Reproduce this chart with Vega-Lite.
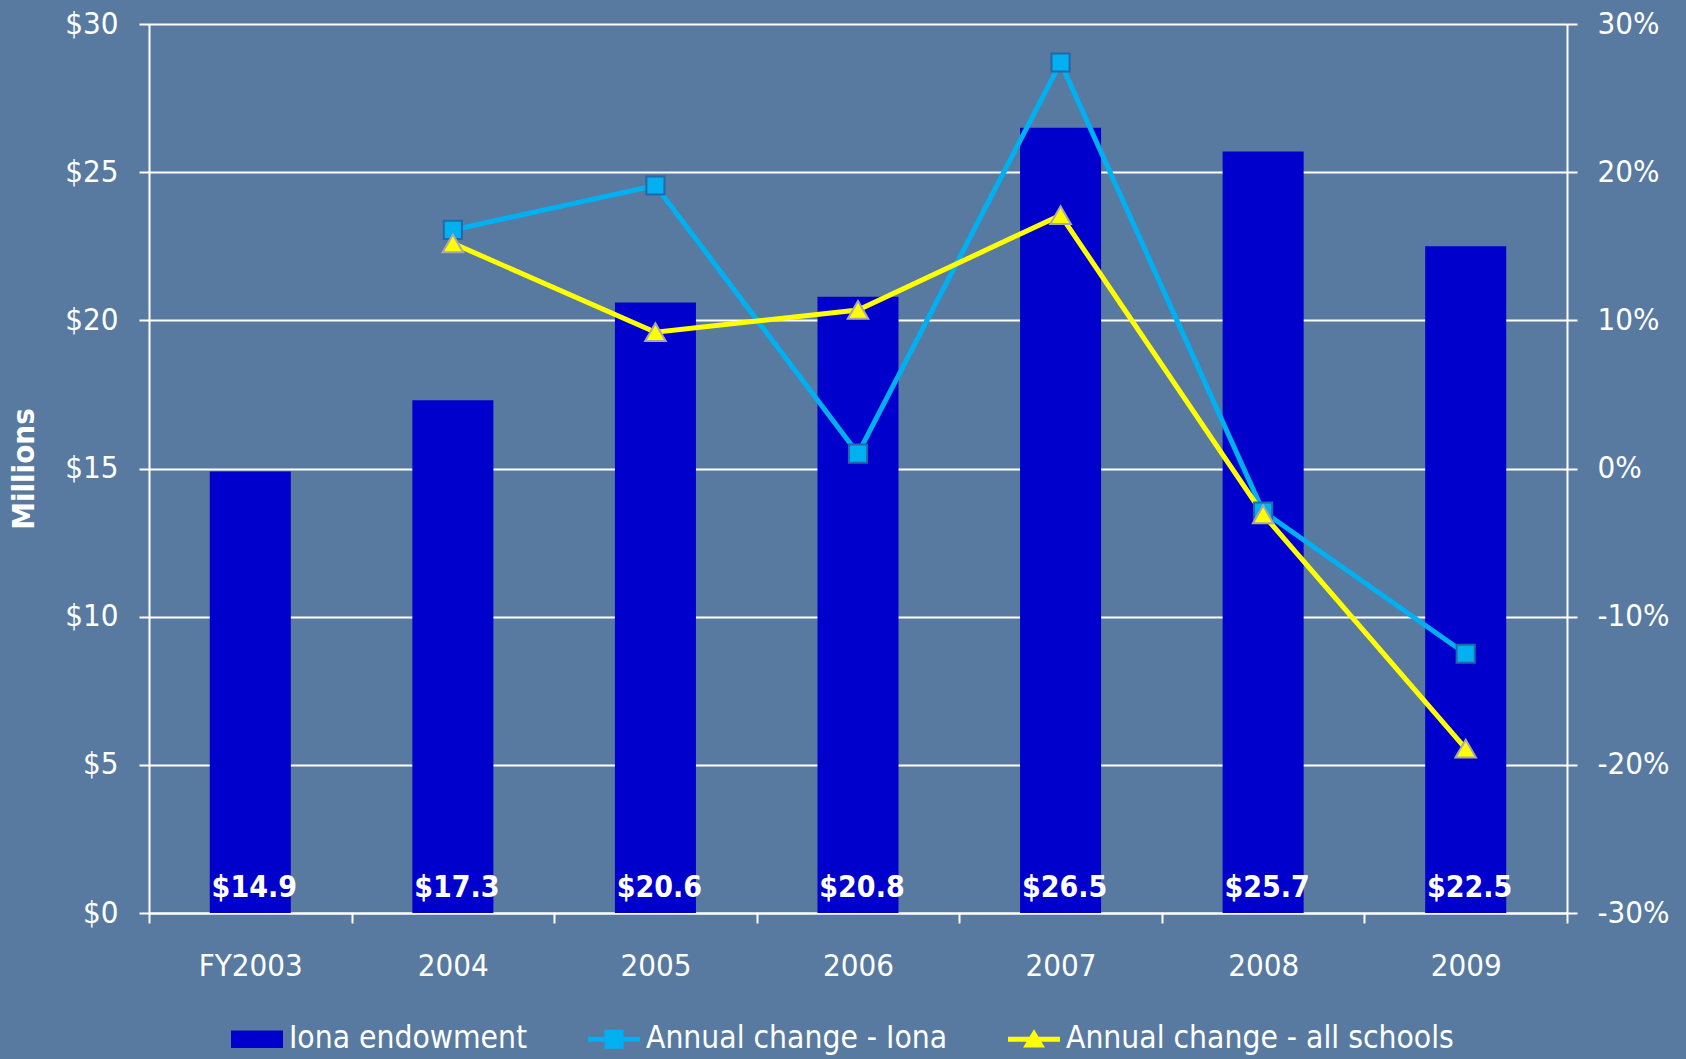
{
  "$schema": "https://vega.github.io/schema/vega-lite/v6.json",
  "width": 1418,
  "height": 889,
  "autosize": {"type": "none"},
  "padding": {"left": 149, "top": 24, "right": 119, "bottom": 146},
  "background": "#587aa0",
  "data": {
    "values": [
      {"year": "FY2003", "series": "Iona endowment", "value": 14.9},
      {"year": "2004", "series": "Iona endowment", "value": 17.3},
      {"year": "2005", "series": "Iona endowment", "value": 20.6},
      {"year": "2006", "series": "Iona endowment", "value": 20.8},
      {"year": "2007", "series": "Iona endowment", "value": 26.5},
      {"year": "2008", "series": "Iona endowment", "value": 25.7},
      {"year": "2009", "series": "Iona endowment", "value": 22.5},
      {"year": "2004", "series": "Annual change - Iona", "value": 16.1},
      {"year": "2005", "series": "Annual change - Iona", "value": 19.1},
      {"year": "2006", "series": "Annual change - Iona", "value": 1.0},
      {"year": "2007", "series": "Annual change - Iona", "value": 27.4},
      {"year": "2008", "series": "Annual change - Iona", "value": -2.9},
      {"year": "2009", "series": "Annual change - Iona", "value": -12.5},
      {"year": "2004", "series": "Annual change - all schools", "value": 15.2},
      {"year": "2005", "series": "Annual change - all schools", "value": 9.2},
      {"year": "2006", "series": "Annual change - all schools", "value": 10.7},
      {"year": "2007", "series": "Annual change - all schools", "value": 17.1},
      {"year": "2008", "series": "Annual change - all schools", "value": -3.1},
      {"year": "2009", "series": "Annual change - all schools", "value": -18.9}
    ]
  },
  "encoding": {
    "x": {
      "field": "year",
      "type": "nominal",
      "sort": null,
      "title": null,
      "scale": {"paddingInner": 0, "paddingOuter": 0},
      "axis": {
        "labelAngle": 0,
        "tickBand": "extent",
        "labelBaseline": "alphabetic",
        "labelPadding": 52
      }
    }
  },
  "layer": [
    {
      "transform": [{"filter": "datum.series === 'Iona endowment'"}],
      "layer": [
        {
          "mark": {"type": "bar", "color": "#0000cc", "width": {"band": 0.4}},
          "encoding": {
            "y": {
              "field": "value",
              "type": "quantitative",
              "title": "Millions",
              "scale": {"domain": [0, 30], "nice": false},
              "axis": {
                "values": [0, 5, 10, 15, 20, 25, 30],
                "labelExpr": "'$' + datum.value",
                "grid": true,
                "labelPadding": 21,
                "titlePadding": 24,
                "titleFontSize": 31,
                "titleFontWeight": "bold",
                "titleColor": "white",
                "titleFont": "DejaVu Sans Condensed"
              }
            },
            "color": {
              "field": "series",
              "type": "nominal",
              "scale": {
                "domain": ["Iona endowment", "Annual change - Iona", "Annual change - all schools"],
                "range": ["#0000cc", "#00b0f0", "#ffff00"]
              },
              "legend": {
                "title": null,
                "orient": "none",
                "direction": "horizontal",
                "legendX": 82,
                "legendY": 989,
                "symbolSize": 2704,
                "labelOffset": 6,
                "columnPadding": 60,
                "labelFontSize": 31.5,
                "labelColor": "white",
                "labelFont": "DejaVu Sans Condensed",
                "labelLimit": 600,
                "encode": {
                  "symbols": {
                    "update": {
                      "shape": {"signal": "datum.value === 'Iona endowment' ? 'M-1,-0.34H1V0.34H-1Z' : datum.value === 'Annual change - Iona' ? 'M-1,-0.1H1V0.1H-1Z M-0.37,-0.37H0.37V0.37H-0.37Z' : 'M-1,-0.1H1V0.1H-1Z M0,-0.38L0.42,0.32H-0.42Z'"},
                      "fill": {"signal": "scale('color', datum.value)"},
                      "fillOpacity": {"value": 1},
                      "strokeWidth": {"value": 0}
                    }
                  }
                }
              }
            }
          }
        },
        {
          "mark": {
            "type": "text",
            "color": "white",
            "font": "DejaVu Sans Condensed",
            "fontWeight": "bold",
            "fontSize": 30,
            "baseline": "alphabetic",
            "align": "center",
            "dx": 4,
            "dy": -16
          },
          "encoding": {
            "y": {"datum": 0, "type": "quantitative"},
            "text": {"field": "value", "type": "quantitative", "format": "$.1f"}
          }
        }
      ]
    },
    {
      "transform": [{"filter": "datum.series !== 'Iona endowment'"}],
      "layer": [
        {
          "mark": {"type": "line", "strokeWidth": 5},
          "encoding": {
            "y": {
              "field": "value",
              "type": "quantitative",
              "title": null,
              "scale": {"domain": [-30, 30], "nice": false},
              "axis": {
                "orient": "right",
                "values": [-30, -20, -10, 0, 10, 20, 30],
                "labelExpr": "datum.value + '%'",
                "grid": false,
                "labelPadding": 20
              }
            },
            "color": {"field": "series", "type": "nominal"}
          }
        },
        {
          "mark": {"type": "point", "filled": true, "strokeWidth": 2, "opacity": 1},
          "encoding": {
            "y": {"field": "value", "type": "quantitative", "title": null},
            "color": {"field": "series", "type": "nominal"},
            "shape": {
              "field": "series",
              "type": "nominal",
              "scale": {"domain": ["Annual change - Iona", "Annual change - all schools"], "range": ["square", "triangle-up"]},
              "legend": null
            },
            "size": {
              "field": "series",
              "type": "nominal",
              "scale": {"domain": ["Annual change - Iona", "Annual change - all schools"], "range": [330, 420]},
              "legend": null
            },
            "stroke": {
              "field": "series",
              "type": "nominal",
              "scale": {"domain": ["Annual change - Iona", "Annual change - all schools"], "range": ["#2566a8", "#a8a8a8"]},
              "legend": null
            }
          }
        }
      ]
    }
  ],
  "resolve": {"scale": {"y": "independent"}},
  "config": {
    "view": {"stroke": null},
    "legend": {"padding": 0},
    "axis": {
      "domainColor": "white",
      "domainWidth": 2,
      "tickColor": "white",
      "tickWidth": 2,
      "tickSize": 10,
      "labelColor": "white",
      "labelFont": "DejaVu Sans Condensed",
      "labelFontSize": 31,
      "gridColor": "white",
      "gridWidth": 2,
      "gridOpacity": 1
    }
  }
}
